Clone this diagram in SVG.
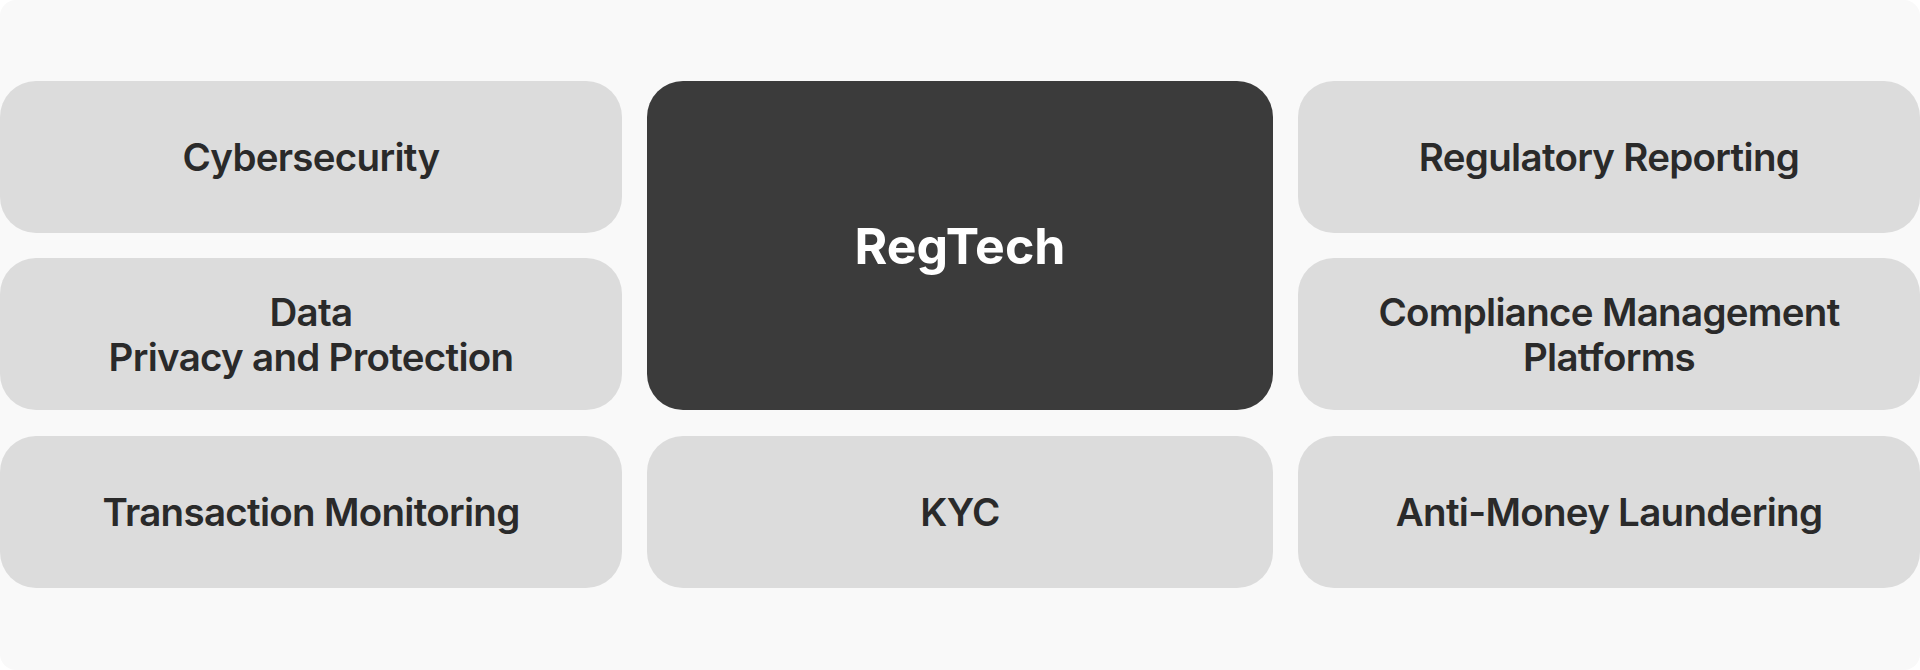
<svg xmlns="http://www.w3.org/2000/svg" width="1920" height="670" viewBox="0 0 1920 670">
  <style>
    .box { fill: #dcdcdc; }
    .hub { fill: #3b3b3b; }
    .lbl { font-family: Inter, "Liberation Sans", sans-serif; font-weight: 600; font-size: 38.5px; letter-spacing: -0.7px; fill: #2a2a2a; text-anchor: middle; }
    .hubl { font-family: Inter, "Liberation Sans", sans-serif; font-weight: 700; font-size: 50px; fill: #ffffff; text-anchor: middle; }
  </style>
  <rect x="0" y="0" width="1920" height="670" fill="#ffffff"/>
  <rect x="0" y="0" width="1920" height="670" rx="16" ry="16" fill="#f9f9f9"/>
  <g id="connectors"></g>
  <g id="node-cybersecurity">
    <rect class="box" x="0" y="81" width="622" height="152" rx="36" ry="36"/>
    <text class="lbl" x="311" y="171">Cybersecurity</text>
  </g>
  <g id="node-data-privacy">
    <rect class="box" x="0" y="258" width="622" height="152" rx="36" ry="36"/>
    <text class="lbl" x="311" y="326">Data</text>
    <text class="lbl" x="311" y="370.5">Privacy and Protection</text>
  </g>
  <g id="node-transaction-monitoring">
    <rect class="box" x="0" y="436" width="622" height="152" rx="36" ry="36"/>
    <text class="lbl" x="311" y="526">Transaction Monitoring</text>
  </g>
  <g id="node-regtech">
    <rect class="hub" x="647" y="81" width="626" height="329" rx="36" ry="36"/>
    <text class="hubl" x="960" y="264">RegTech</text>
  </g>
  <g id="node-kyc">
    <rect class="box" x="647" y="436" width="626" height="152" rx="36" ry="36"/>
    <text class="lbl" x="960" y="526">KYC</text>
  </g>
  <g id="node-regulatory-reporting">
    <rect class="box" x="1298" y="81" width="622" height="152" rx="36" ry="36"/>
    <text class="lbl" x="1609" y="171">Regulatory Reporting</text>
  </g>
  <g id="node-compliance-management">
    <rect class="box" x="1298" y="258" width="622" height="152" rx="36" ry="36"/>
    <text class="lbl" x="1609" y="326">Compliance Management</text>
    <text class="lbl" x="1609" y="370.5">Platforms</text>
  </g>
  <g id="node-aml">
    <rect class="box" x="1298" y="436" width="622" height="152" rx="36" ry="36"/>
    <text class="lbl" x="1609" y="526">Anti-Money Laundering</text>
  </g>
</svg>
